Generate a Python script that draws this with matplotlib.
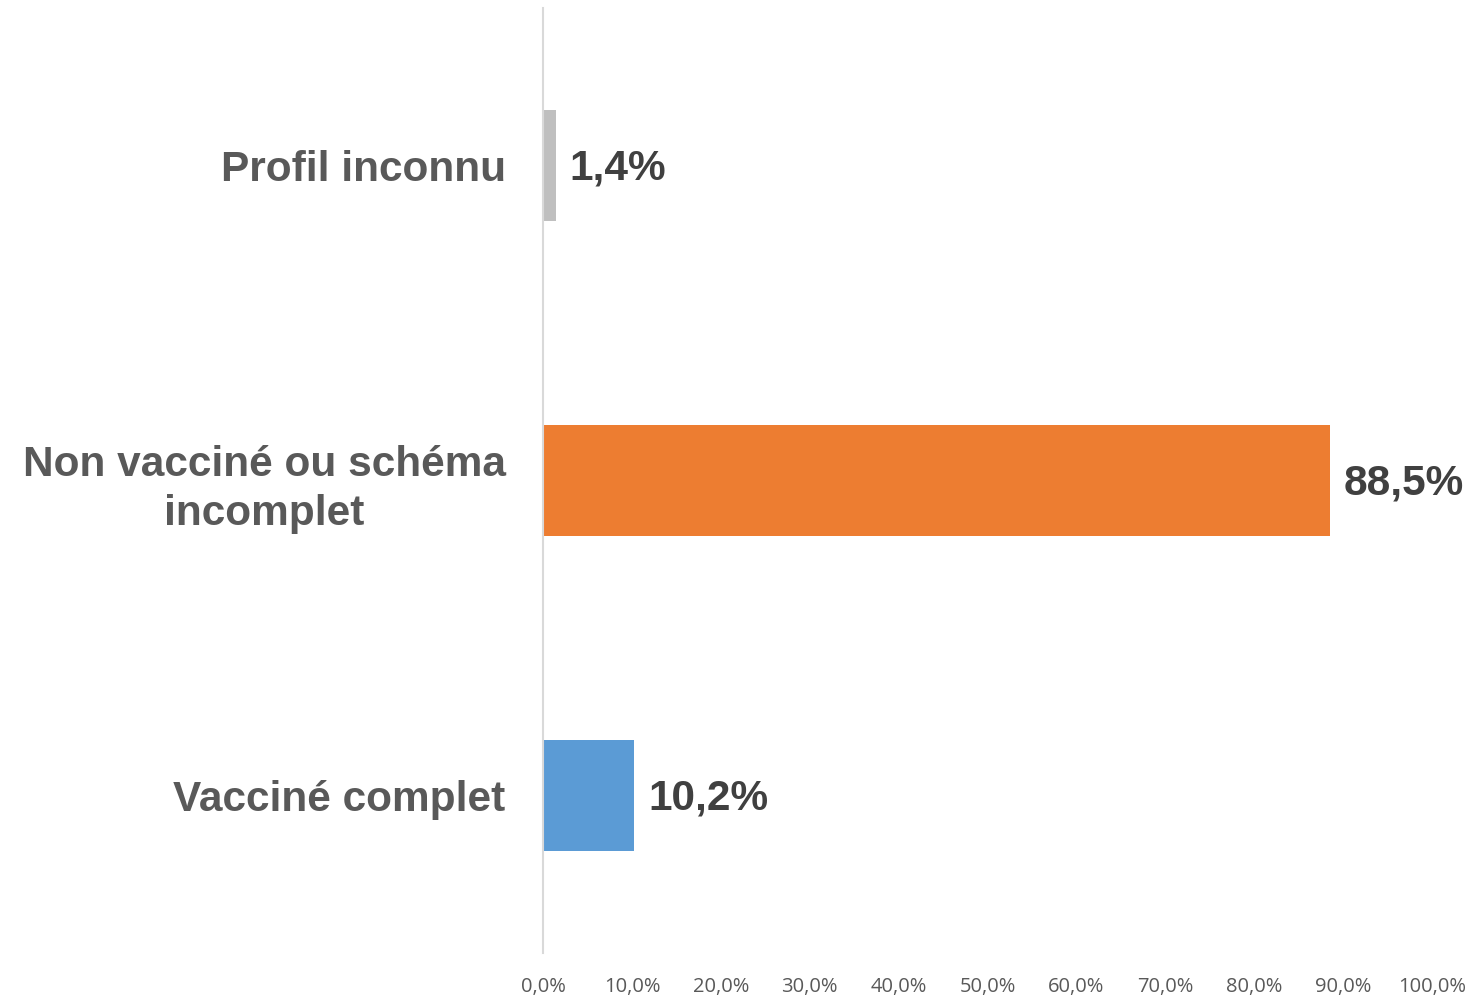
import matplotlib
matplotlib.use("Agg")
import matplotlib.pyplot as plt
from matplotlib.ticker import FuncFormatter

categories = ["Vacciné complet", "Non vacciné ou schéma\nincomplet", "Profil inconnu"]
values = [10.2, 88.5, 1.4]
bar_colors = ["#5B9BD5", "#ED7D31", "#BFBFBF"]
x_ticks = [0, 10, 20, 30, 40, 50, 60, 70, 80, 90, 100]

fig = plt.figure(figsize=(14.76, 9.98), dpi=100)
ax = fig.add_axes([0.368, 0.045, 0.602, 0.947])

ypos = list(range(len(categories)))
ax.barh(ypos, values, height=0.355, color=bar_colors)

for y, v in zip(ypos, values):
    ax.text(v + 1.6, y - 0.01, f"{v:.1f}%".replace(".", ","), va="center", ha="left",
            fontsize=30.5, fontweight="bold", color="#404040", family="Liberation Sans")

ax.set_xlim(0, 100)
ax.set_ylim(-0.5, 2.5)
ax.set_yticks(ypos)
ax.set_yticklabels(categories, fontsize=30.5, fontweight="bold", color="#595959",
                   family="Liberation Sans", multialignment="center", linespacing=1.3)
ax.set_xticks(x_ticks)
ax.xaxis.set_major_formatter(FuncFormatter(lambda v, p: f"{v:.1f}%".replace(".", ",")))
for lab in ax.get_xticklabels():
    lab.set_family("Open Sans")
    lab.set_fontsize(14.5)
    lab.set_color("#595959")

ax.tick_params(axis="x", length=0, pad=17)
ax.tick_params(axis="y", length=0, pad=27)
for s in ["top", "right", "bottom"]:
    ax.spines[s].set_visible(False)
ax.spines["left"].set_color("#D9D9D9")
ax.spines["left"].set_linewidth(1.5)

fig.savefig("out.png", dpi=100, facecolor="white")
